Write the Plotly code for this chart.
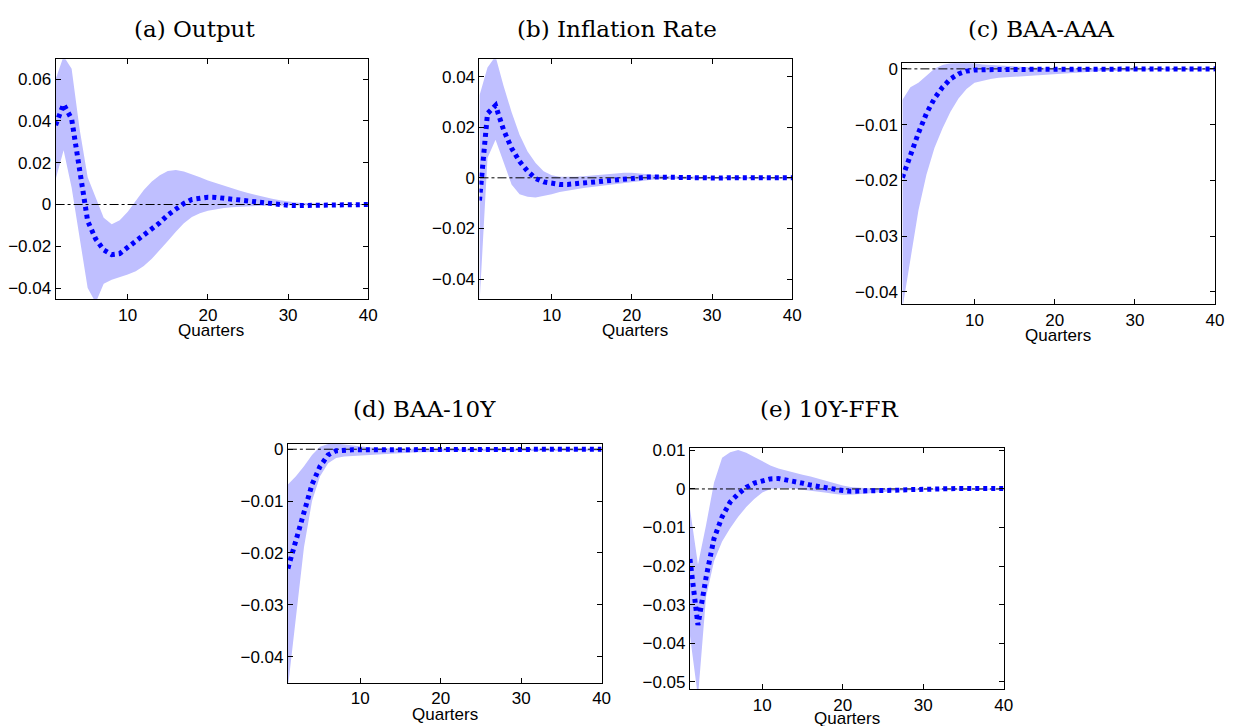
import plotly.graph_objects as go

W, H = 1235, 726
quarters = list(range(1, 41))

# ---------------- data ----------------
median_a = [0.038, 0.048, 0.041, 0.0173, -0.0079, -0.0165, -0.0217, -0.024, -0.0235, -0.0205,
            -0.0177, -0.015, -0.0118, -0.0087, -0.005, -0.0019, 0.0005, 0.0024, 0.0032, 0.0035,
            0.0034, 0.003, 0.0025, 0.0019, 0.0013, 0.0008, 0.0004, 0.0, -0.0002, -0.0004,
            -0.0005, -0.0005, -0.0004, -0.0003, -0.0002, -0.0001, 0.0, 0.0, 0.0, 0.0]
upper_a = [0.06, 0.071, 0.065, 0.036, 0.013, 0.0032, -0.0063, -0.0095, -0.0075, -0.0035,
           0.0015, 0.007, 0.011, 0.014, 0.016, 0.0165, 0.0158, 0.0145, 0.013, 0.0115,
           0.0102, 0.009, 0.0077, 0.0066, 0.0055, 0.0045, 0.0036, 0.0028, 0.002, 0.0014,
           0.001, 0.0007, 0.0005, 0.0004, 0.0003, 0.0003, 0.0003, 0.0003, 0.0003, 0.0003]
lower_a = [0.012, 0.026, 0.008, -0.015, -0.04, -0.047, -0.038, -0.036, -0.0348, -0.0335,
           -0.032, -0.0295, -0.026, -0.022, -0.0175, -0.013, -0.009, -0.006, -0.0042, -0.003,
           -0.0022, -0.0017, -0.0013, -0.001, -0.0008, -0.0007, -0.0006, -0.0005, -0.0005, -0.0004,
           -0.0004, -0.0003, -0.0003, -0.0003, -0.0002, -0.0002, -0.0002, -0.0002, -0.0002, -0.0002]

median_b = [-0.009, 0.0254, 0.0286, 0.019, 0.0117, 0.0065, 0.0026, -0.0003, -0.0016, -0.0022,
            -0.0026, -0.0026, -0.0023, -0.002, -0.0016, -0.0013, -0.001, -0.0007, -0.0003, 0.0,
            0.0002, 0.0003, 0.0003, 0.0002, 0.0001, 0.0, 0.0, -0.0001, -0.0001, -0.0001,
            -0.0001, 0.0, 0.0, 0.0, 0.0, 0.0, 0.0, 0.0, 0.0, 0.0]
upper_b = [0.0325, 0.0436, 0.048, 0.0364, 0.026, 0.017, 0.0104, 0.0059, 0.0026, 0.001,
           0.0004, 0.0003, 0.0004, 0.0006, 0.0008, 0.0011, 0.0014, 0.0017, 0.002, 0.002,
           0.0017, 0.0013, 0.001, 0.0008, 0.0006, 0.0005, 0.0004, 0.0004, 0.0003, 0.0003,
           0.0003, 0.0003, 0.0003, 0.0003, 0.0003, 0.0003, 0.0003, 0.0003, 0.0003, 0.0003]
lower_b = [-0.05, 0.0078, 0.015, 0.0065, -0.0026, -0.0065, -0.0075, -0.0078, -0.0072, -0.0065,
           -0.0056, -0.005, -0.0045, -0.004, -0.0036, -0.0032, -0.0028, -0.0024, -0.002, -0.0015,
           -0.0011, -0.0008, -0.0006, -0.0005, -0.0004, -0.0004, -0.0004, -0.0004, -0.0004, -0.0003,
           -0.0003, -0.0003, -0.0003, -0.0003, -0.0003, -0.0003, -0.0003, -0.0003, -0.0003, -0.0003]

median_c = [-0.0195, -0.0154, -0.0115, -0.008, -0.0053, -0.0033, -0.0018, -0.0009, -0.0004, -0.0002,
            -0.0001, -0.0001, -0.0001, -0.0001, -0.0001, -0.0001, -0.0001, -0.0001, -0.0001, -0.0001,
            -0.0001, -0.0001, -0.0001, -0.0001, -0.0001, 0.0, 0.0, 0.0, 0.0, 0.0,
            0.0, 0.0, 0.0, 0.0, 0.0, 0.0, 0.0, 0.0, 0.0, 0.0]
upper_c = [-0.0056, -0.0033, -0.0025, -0.0012, 0.0, 0.0007, 0.001, 0.0011, 0.0011, 0.001,
           0.0008, 0.0007, 0.0006, 0.0005, 0.0004, 0.0003, 0.0002, 0.0002, 0.0002, 0.0001,
           0.0001, 0.0001, 0.0001, 0.0001, 0.0001, 0.0001, 0.0001, 0.0001, 0.0001, 0.0001,
           0.0001, 0.0001, 0.0001, 0.0001, 0.0001, 0.0001, 0.0001, 0.0001, 0.0001, 0.0001]
lower_c = [-0.043, -0.0343, -0.0254, -0.019, -0.0142, -0.0107, -0.0077, -0.0053, -0.0036, -0.0025,
           -0.0021, -0.0018, -0.0016, -0.0015, -0.0014, -0.0013, -0.0012, -0.0011, -0.001, -0.0009,
           -0.0008, -0.0007, -0.0006, -0.0005, -0.0005, -0.0004, -0.0004, -0.0003, -0.0003, -0.0003,
           -0.0002, -0.0002, -0.0002, -0.0002, -0.0002, -0.0002, -0.0002, -0.0002, -0.0002, -0.0002]

median_d = [-0.023, -0.0173, -0.0119, -0.0068, -0.0033, -0.0011, -0.0003, -0.0001, -0.0001, -0.0001,
            -0.0001, -0.0001, -0.0001, -0.0001, -0.0001, -0.0001, -0.0001, -0.0001, -0.0001, -0.0001,
            0.0, 0.0, 0.0, 0.0, 0.0, 0.0, 0.0, 0.0, 0.0, 0.0,
            0.0, 0.0, 0.0, 0.0, 0.0, 0.0, 0.0, 0.0, 0.0, 0.0]
upper_d = [-0.0068, -0.0052, -0.0033, -0.0011, 0.0005, 0.001, 0.0011, 0.0009, 0.0007, 0.0005,
           0.0004, 0.0003, 0.0002, 0.0002, 0.0001, 0.0001, 0.0001, 0.0001, 0.0001, 0.0001,
           0.0001, 0.0001, 0.0001, 0.0001, 0.0001, 0.0001, 0.0001, 0.0001, 0.0001, 0.0001,
           0.0001, 0.0001, 0.0001, 0.0001, 0.0001, 0.0001, 0.0001, 0.0001, 0.0001, 0.0001]
lower_d = [-0.046, -0.0328, -0.0189, -0.01, -0.0052, -0.0027, -0.0017, -0.0014, -0.0013, -0.0012,
           -0.0011, -0.001, -0.0009, -0.0008, -0.0008, -0.0007, -0.0006, -0.0006, -0.0005, -0.0005,
           -0.0004, -0.0004, -0.0004, -0.0004, -0.0003, -0.0003, -0.0003, -0.0003, -0.0003, -0.0003,
           -0.0003, -0.0003, -0.0003, -0.0003, -0.0003, -0.0003, -0.0003, -0.0003, -0.0003, -0.0003]

median_e = [-0.0182, -0.0353, -0.023, -0.0128, -0.0072, -0.0034, -0.0013, 0.0004, 0.0015, 0.0021,
            0.0026, 0.0027, 0.0024, 0.002, 0.0015, 0.001, 0.0006, 0.0002, -0.0002, -0.0004,
            -0.0006, -0.0006, -0.0006, -0.0005, -0.0005, -0.0004, -0.0003, -0.0002, -0.0001, 0.0,
            0.0, 0.0001, 0.0001, 0.0001, 0.0001, 0.0001, 0.0001, 0.0001, 0.0001, 0.0001]
upper_e = [-0.0051, -0.0196, -0.0094, 0.0017, 0.0081, 0.0095, 0.0101, 0.0094, 0.0083, 0.0072,
           0.0061, 0.0053, 0.0047, 0.0043, 0.0037, 0.0032, 0.0026, 0.0019, 0.0013, 0.0009,
           0.0005, 0.0003, 0.0002, 0.0001, 0.0001, 0.0001, 0.0001, 0.0001, 0.0001, 0.0001,
           0.0001, 0.0001, 0.0001, 0.0001, 0.0001, 0.0001, 0.0001, 0.0001, 0.0001, 0.0001]
lower_e = [-0.038, -0.054, -0.028, -0.0187, -0.0136, -0.0102, -0.0072, -0.0047, -0.0026, -0.0009,
           0.0, 0.0002, 0.0002, 0.0001, -0.0002, -0.0004, -0.0007, -0.001, -0.0013, -0.0015,
           -0.0015, -0.0014, -0.0012, -0.001, -0.0008, -0.0006, -0.0005, -0.0004, -0.0004, -0.0003,
           -0.0002, -0.0002, -0.0002, -0.0002, -0.0002, -0.0002, -0.0002, -0.0002, -0.0002, -0.0002]

titles = ["(a) Output", "(b) Inflation Rate", "(c) BAA-AAA", "(d) BAA-10Y", "(e) 10Y-FFR"]
x_title = "Quarters"
x_tickvals = [10, 20, 30, 40]
x_ticktext = ["10", "20", "30", "40"]
ytick_a = [-0.04, -0.02, 0, 0.02, 0.04, 0.06]
ytext_a = ["\u22120.04", "\u22120.02", "0", "0.02", "0.04", "0.06"]
ytick_b = [-0.04, -0.02, 0, 0.02, 0.04]
ytext_b = ["\u22120.04", "\u22120.02", "0", "0.02", "0.04"]
ytick_c = [-0.04, -0.03, -0.02, -0.01, 0]
ytext_c = ["\u22120.04", "\u22120.03", "\u22120.02", "\u22120.01", "0"]
ytick_d = [-0.04, -0.03, -0.02, -0.01, 0]
ytext_d = ["\u22120.04", "\u22120.03", "\u22120.02", "\u22120.01", "0"]
ytick_e = [-0.05, -0.04, -0.03, -0.02, -0.01, 0, 0.01]
ytext_e = ["\u22120.05", "\u22120.04", "\u22120.03", "\u22120.02", "\u22120.01", "0", "0.01"]

# ---------------- layout geometry (pixels) ----------------
panels = [
    # (median, lower, upper, yrange, ytickvals, yticktext, box(l, t, r, b), title xy, xlabel xy)
    (median_a, lower_a, upper_a, [-0.0454, 0.0695], ytick_a, ytext_a, (56, 53, 371, 296), (196, 22), (213, 328)),
    (median_b, lower_b, upper_b, [-0.048, 0.0468], ytick_b, ytext_b, (483, 53, 798, 296), (622, 22), (640, 328)),
    (median_c, lower_c, upper_c, [-0.0422, 0.001], ytick_c, ytext_c, (909, 57, 1224, 301), (1049, 22), (1066, 333)),
    (median_d, lower_d, upper_d, [-0.045, 0.0011], ytick_d, ytext_d, (290, 442, 606, 684), (428, 407), (448, 716)),
    (median_e, lower_e, upper_e, [-0.052, 0.0105], ytick_e, ytext_e, (695, 447, 1011, 691), (835, 407), (853, 720)),
]

BAND = "rgb(191,191,255)"
LINE = "rgb(0,0,255)"
tick_font = dict(family="Liberation Sans, Arial, sans-serif", size=17, color="black")
title_font = dict(family="DejaVu Serif, serif", size=23, color="black")

fig = go.Figure()
layout = {}
annotations = []

for i, (med, lo, up, yr, ytv, ytt, box, tpos, lpos) in enumerate(panels):
    n = "" if i == 0 else str(i + 1)
    xa, ya = "x" + n, "y" + n
    l, t, r, b = box
    # band
    fig.add_trace(go.Scatter(x=quarters, y=lo, xaxis=xa, yaxis=ya, mode="lines",
                             line=dict(width=0, color=BAND), showlegend=False, hoverinfo="skip"))
    fig.add_trace(go.Scatter(x=quarters, y=up, xaxis=xa, yaxis=ya, mode="lines",
                             line=dict(width=0, color=BAND), fill="tonexty", fillcolor=BAND,
                             showlegend=False, hoverinfo="skip"))
    # zero line
    fig.add_trace(go.Scatter(x=[quarters[0], quarters[-1]], y=[0, 0], xaxis=xa, yaxis=ya, mode="lines",
                             line=dict(width=1, color="black", dash="dashdot"), showlegend=False))
    # median
    fig.add_trace(go.Scatter(x=quarters, y=med, xaxis=xa, yaxis=ya, mode="lines",
                             line=dict(width=5, color=LINE, dash="4px,4px"), showlegend=False))

    layout["xaxis" + n] = dict(domain=[l / W, r / W], anchor=ya, range=[1, 40],
                               tickvals=x_tickvals, ticktext=x_ticktext, ticks="inside", ticklen=5,
                               tickcolor="black", showline=True, linecolor="black", linewidth=1,
                               mirror="ticks", showgrid=False, zeroline=False, tickfont=tick_font)
    layout["yaxis" + n] = dict(domain=[1 - b / H, 1 - t / H], anchor=xa, range=yr,
                               tickvals=ytv, ticktext=ytt, ticks="inside", ticklen=5,
                               tickcolor="black", showline=True, linecolor="black", linewidth=1,
                               mirror="ticks", showgrid=False, zeroline=False, tickfont=tick_font)
    annotations.append(dict(text=titles[i], x=tpos[0] / W, y=1 - tpos[1] / H, xref="paper", yref="paper",
                            xanchor="center", yanchor="middle", showarrow=False, font=title_font))
    annotations.append(dict(text=x_title, x=lpos[0] / W, y=1 - lpos[1] / H, xref="paper", yref="paper",
                            xanchor="center", yanchor="middle", showarrow=False, font=tick_font))

fig.update_layout(width=W, height=H, margin=dict(l=0, r=0, t=0, b=0),
                  paper_bgcolor="white", plot_bgcolor="white", annotations=annotations, **layout)

fig.write_html("out.html", config={"displayModeBar": False},
               post_script="document.body.style.margin='0px'; document.body.style.overflow='hidden';")
